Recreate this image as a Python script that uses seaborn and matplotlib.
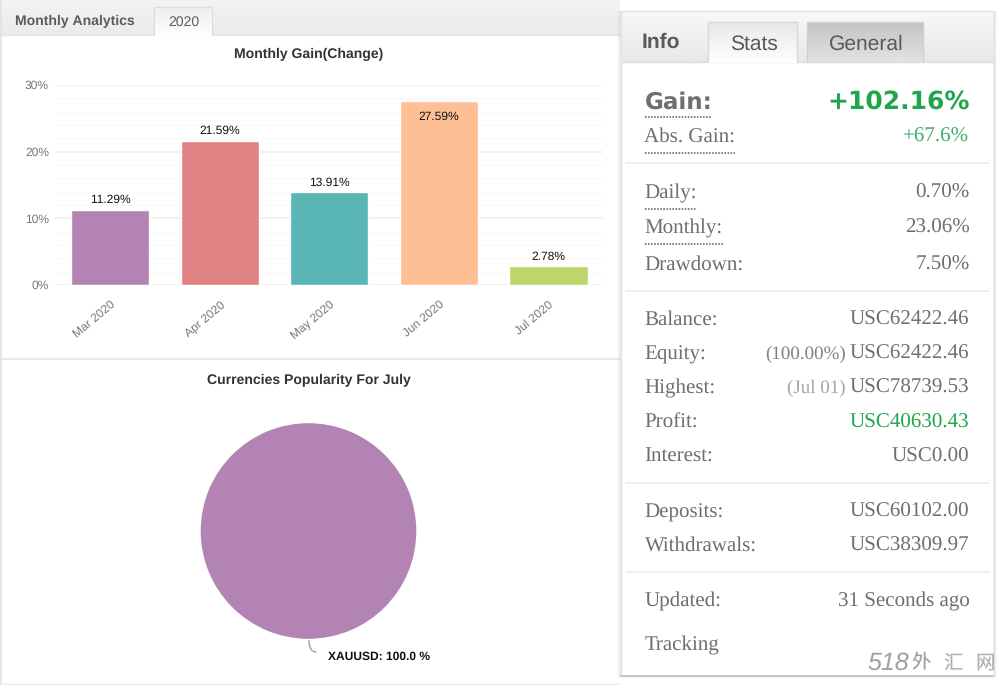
import numpy as np
import pandas as pd
import matplotlib
matplotlib.use("Agg")
import matplotlib.pyplot as plt
import seaborn as sns

months = ["Mar 2020", "Apr 2020", "May 2020", "Jun 2020", "Jul 2020"]
gains = [11.29, 21.59, 13.91, 27.59, 2.78]
bar_colors = ["#b384b3", "#e08283", "#5ab5b5", "#ffbf94", "#bdd66b"]
pie_labels = ["XAUUSD"]
pie_values = [100.0]

row_labels = ["Daily:", "Monthly:", "Drawdown:", "Balance:", "Equity:", "Highest:",
              "Profit:", "Interest:", "Deposits:", "Withdrawals:", "Updated:", "Tracking"]
row_values = ["0.70%", "23.06%", "7.50%", "USC62422.46", "USC62422.46", "USC78739.53",
              "USC40630.43", "USC0.00", "USC60102.00", "USC38309.97", "31 Seconds ago", ""]
row_y = [193, 228, 265, 320, 354, 388, 423, 457, 512, 546, 601, 645]

sns.set_theme(style="white")
plt.rcParams["font.family"] = ["Liberation Sans", "DejaVu Sans"]
plt.rcParams["text.hinting"] = "none"
plt.rcParams["text.hinting_factor"] = 1

GREY = "#6f6f6f"
GREEN = "#1fa64a"
SERIF = "Liberation Serif"

fig = plt.figure(figsize=(10, 6.85), dpi=100, facecolor="white")

# page furniture, drawn in pixel coordinates
bg = fig.add_axes([0, 0, 1, 1], zorder=0)
bg.set_xlim(0, 1000)
bg.set_ylim(685, 0)
bg.axis("off")


def grad(x0, x1, y0, y1, c0, c1, z=1):
    g = np.linspace(0, 1, 32).reshape(-1, 1)
    cm = matplotlib.colors.LinearSegmentedColormap.from_list("g", [c0, c1])
    bg.imshow(g, extent=(x0, x1, y1, y0), cmap=cm, aspect="auto", zorder=z, vmin=0, vmax=1)


# left panel
grad(0, 620, 0, 35, "#f3f3f3", "#ebebeb")
bg.plot([0, 620], [35, 35], color="#e6e6e6", lw=1, zorder=2)
bg.plot([1, 1], [0, 685], color="#e2e2e2", lw=1.2, zorder=2)
grad(154, 212, 7, 36, "#eeeeee", "#ffffff", z=3)
bg.plot([154, 154, 212, 212], [35, 7, 7, 35], color="#dcdcdc", lw=0.8, zorder=4)
bg.text(15, 21.5, "Monthly Analytics", fontsize=10.2, fontweight="bold", color="#5c5c5c", va="center", zorder=5)
bg.text(184, 22.5, "2020", fontsize=10.2, color="#5c5c5c", ha="center", va="center", zorder=5)
bg.plot([1, 620], [359, 359], color="#e6e6e6", lw=1.2, zorder=2)
bg.plot([1, 620], [684, 684], color="#eeeeee", lw=1, zorder=2)

# right panel with soft shadow, heavier along the bottom
for i, a in enumerate([0.03, 0.04, 0.05]):
    d = 3 - i
    bg.add_patch(plt.Rectangle((620 - d, 11), 374 + 2 * d, 665 + d, color="#777777", alpha=a, lw=0, zorder=5))
bg.add_patch(plt.Rectangle((621, 12), 372, 663, color="white", lw=0, zorder=6))
grad(621, 993, 12, 62, "#f8f8f8", "#e8e8e8", z=7)
bg.plot([621, 993], [62, 62], color="#dcdcdc", lw=1, zorder=8)
bg.plot([620.5, 620.5, 993.5, 993.5], [675, 11, 11, 675], color="#e0e0e0", lw=1, zorder=8)
bg.plot([621, 993], [675.5, 675.5], color="#bdbdbd", lw=1.2, zorder=8)
grad(708, 797, 22, 63, "#e9e9e9", "#ffffff", z=9)
bg.plot([708, 708, 797, 797], [62, 22, 22, 62], color="#d8d8d8", lw=1, zorder=10)
grad(807, 923, 22, 62, "#c4c4c4", "#e2e2e2", z=9)
bg.plot([807, 807, 923, 923], [62, 22, 22, 62], color="#cfcfcf", lw=1, zorder=10)
bg.text(642, 42, "Info", fontsize=15, fontweight="bold", color="#5a5a5a", va="center", zorder=11)
bg.text(754, 44, "Stats", fontsize=15, color="#5a5a5a", ha="center", va="center", zorder=11)
bg.text(866.5, 44, "General", fontsize=15, color="#5a5a5a", ha="center", va="center", zorder=11)

bg.text(645, 102, "Gain:", fontsize=16.5, fontweight="bold", family="DejaVu Sans", color=GREY, va="center", zorder=11)
bg.text(969.5, 102, "+102.16%", fontsize=17.7, fontweight="bold", family="DejaVu Sans", color=GREEN, ha="right", va="center", zorder=11)
bg.text(644.5, 137, "Abs. Gain:", fontsize=15, family=SERIF, color=GREY, va="center", zorder=11)
bg.text(969.5, 137, "+67.6%", fontsize=15, family=SERIF, color="#3fae68", ha="right", va="center", zorder=11)

for lab, val, y in zip(row_labels, row_values, row_y):
    bg.text(644.5, y, lab, fontsize=15, family=SERIF, color=GREY, va="center", zorder=11)
    col = GREEN if lab == "Profit:" else GREY
    bg.text(969.5, y, val, fontsize=15, family=SERIF, color=col, ha="right", va="center", zorder=11)
bg.text(845.5, 354, "(100.00%)", fontsize=13.8, family=SERIF, color="#808080", ha="right", va="center", zorder=11)
bg.text(845.5, 388, "(Jul 01)", fontsize=13.8, family=SERIF, color="#a5a5a5", ha="right", va="center", zorder=11)

for x0, x1, y in [(645, 711, 117), (645, 735, 153), (645, 697, 209), (645, 723, 244)]:
    bg.plot([x0, x1], [y, y], color="#555555", lw=1.1, ls=(0, (1, 1)), zorder=11)
for y in [163, 291, 483, 572]:
    bg.plot([626, 989], [y, y], color="#ececec", lw=1.2, zorder=11)

bg.text(867, 663, "518", fontsize=18, style="italic", color="#a0a0a0", va="center", zorder=12)
bg.text(921, 663, "外", fontsize=14, family="Noto Sans CJK SC", color="#a0a0a0", ha="center", va="center", zorder=12)
bg.text(953, 663, "汇", fontsize=14, family="Noto Sans CJK SC", color="#b0b0b0", ha="center", va="center", zorder=12)
bg.text(985, 663, "网", fontsize=14, family="Noto Sans CJK SC", color="#b0b0b0", ha="center", va="center", zorder=12)
bg.set_xlim(0, 1000)
bg.set_ylim(685, 0)

# Monthly gain bars
ax = fig.add_axes([55.3 / 1000, 1 - 285 / 685, 548 / 1000, 200 / 685], zorder=2)
ax.patch.set_alpha(0)
df = pd.DataFrame({"month": months, "gain": gains})
sns.barplot(data=df, x="month", y="gain", hue="month", palette=bar_colors, legend=False,
            width=0.715, saturation=1, ax=ax, zorder=3)
ax.set_ylim(0, 30)
ax.set_yticks([0, 10, 20, 30])
ax.set_yticklabels(["0%", "10%", "20%", "30%"], fontsize=8.8, color="#777777")
ax.set_yticks(np.arange(0, 30, 2), minor=True)
ax.grid(axis="y", which="major", color="#efefef", lw=1.2, zorder=0)
ax.grid(axis="y", which="minor", color="#f9f9f9", lw=0.9, zorder=0)
ax.set_axisbelow(True)
ax.tick_params(axis="both", which="both", length=0)
ax.tick_params(axis="y", pad=4.5)
ax.set_xlabel("")
ax.set_ylabel("")
plt.setp(ax.get_xticklabels(), rotation=40, ha="right", rotation_mode="anchor", fontsize=8.8, color="#777777")
ax.tick_params(axis="x", pad=10)
sns.despine(ax=ax, left=True, bottom=True)
for i, g in enumerate(gains):
    if g > 25:
        ax.text(i, g - 2.4, f"{g:.2f}%", ha="center", va="center", fontsize=8.4, color="#111111", zorder=5)
    else:
        ax.text(i, g + 1.5, f"{g:.2f}%", ha="center", va="center", fontsize=8.4, color="#111111", zorder=5)
bg.text(308.5, 54, "Monthly Gain(Change)", fontsize=10.2, fontweight="bold", color="#333333", ha="center", va="center", zorder=3)

# Currency pie
bg.text(308.5, 380, "Currencies Popularity For July", fontsize=10.2, fontweight="bold", color="#333333", ha="center", va="center", zorder=3)
pie_ax = fig.add_axes([200 / 1000, 1 - 640 / 685, 217 / 1000, 218 / 685], zorder=2)
pie_ax.pie(pie_values, colors=bar_colors[:1], radius=1.0, startangle=90)
pie_ax.set_xlim(-1, 1)
pie_ax.set_ylim(-1, 1)
bg.text(328, 656.5, f"{pie_labels[0]}: {pie_values[0]:.1f} %", fontsize=8.3, fontweight="bold", color="#111111", va="center", zorder=3)
bg.annotate("", xy=(316, 652), xytext=(309, 640),
            arrowprops=dict(arrowstyle="-", color="#b0a2b0", lw=1.1, shrinkA=0, shrinkB=0,
                            connectionstyle="angle3,angleA=90,angleB=0"), zorder=3)

fig.savefig("out.png", dpi=100)
